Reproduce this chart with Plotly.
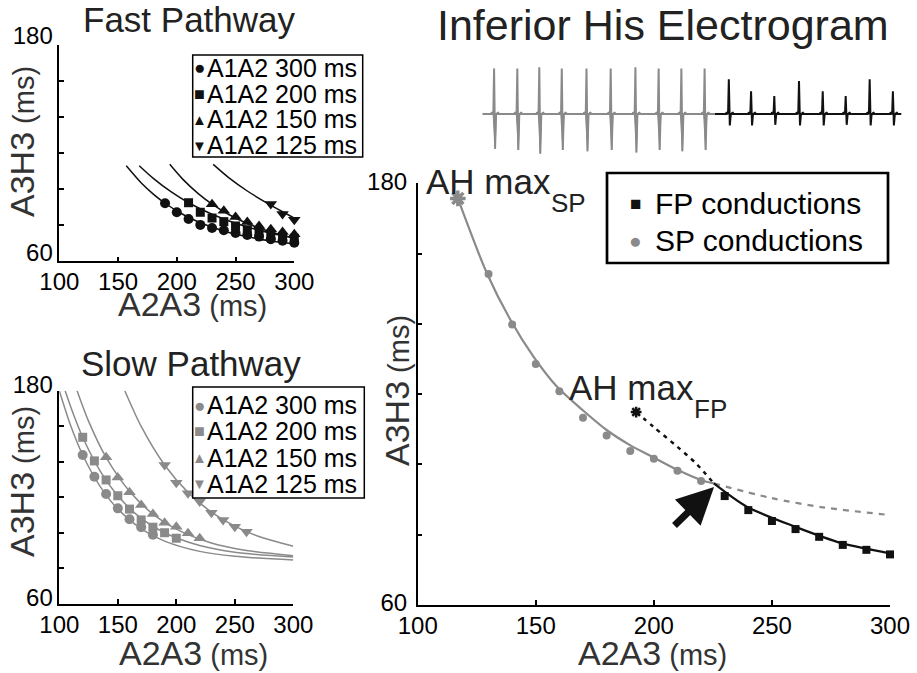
import plotly.graph_objects as go

W, H = 917, 673
def px(p): return p / W
def py(p): return 1 - p / H

FONT = "Liberation Sans, Arial, Helvetica, sans-serif"
GREY = "#8a8a8a"
BLACK = "#111111"

# ---------------- data: Fast Pathway ----------------
fast_x300 = [190, 200, 210, 220, 230, 240, 250, 260, 270, 280, 290, 300]
fast_y300 = [92.2, 87.2, 83.5, 80.2, 78.5, 77.2, 75.7, 74.6, 73.7, 72.2, 71.4, 70.3]
fast_x200 = [210, 220, 230, 240, 250, 260, 270, 280, 290, 300]
fast_y200 = [92.5, 87.2, 84.0, 82.0, 79.6, 77.5, 76.0, 74.8, 73.8, 72.8]
fast_x150 = [230, 240, 250, 260, 270, 280, 290, 300]
fast_y150 = [91.7, 88.0, 84.6, 81.8, 79.6, 77.8, 76.3, 75.0]
fast_x125 = [280, 290, 300]
fast_y125 = [91.8, 86.2, 83.0]

fastfit_x300 = [157, 170, 180, 190, 205, 220, 240, 260, 280, 300]
fastfit_y300 = [113, 103.3, 97.3, 92.2, 86.1, 81.4, 76.8, 73.6, 71.3, 69.7]
fastfit_x200 = [168, 180, 195, 210, 230, 250, 270, 285, 300]
fastfit_y200 = [113, 106.0, 98.6, 92.5, 86.1, 81.1, 77.2, 74.9, 73.0]
fastfit_x150 = [194, 205, 218, 230, 245, 260, 280, 300]
fastfit_y150 = [113.8, 105.6, 97.7, 91.7, 85.7, 81.0, 76.3, 72.9]
fastfit_x125 = [231, 245, 260, 275, 290, 300]
fastfit_y125 = [113.8, 106.0, 99.0, 93.0, 87.5, 84.0]

# ---------------- data: Slow Pathway ----------------
slow_x300 = [120, 130, 140, 150, 160, 170, 180]
slow_y300 = [143.8, 131.6, 121.9, 113.8, 107.7, 103.2, 99.0]
slow_x200 = [120, 130, 140, 150, 160, 170, 180, 190, 200]
slow_y200 = [153.8, 140.5, 129.8, 120.9, 113.4, 107.3, 103.2, 100.1, 97.0]
slow_x150 = [140, 150, 160, 170, 180, 190, 200, 210, 220]
slow_y150 = [142.5, 131.1, 122.8, 115.7, 110.6, 105.7, 103.5, 99.8, 97.0]
slow_x125 = [190, 200, 210, 220, 230, 240, 250, 260]
slow_y125 = [138.2, 128.2, 122.3, 117.6, 111.4, 107.3, 103.5, 100.7]

slowfit_x300 = [100, 110, 120, 135, 150, 170, 190, 220, 250, 300]
slowfit_y300 = [180, 159.8, 143.8, 126.0, 113.4, 102.3, 95.4, 89.6, 86.8, 84.8]
slowfit_x200 = [105, 112, 120, 135, 150, 170, 190, 220, 250, 300]
slowfit_y200 = [180, 166.9, 153.8, 134.7, 120.9, 108.2, 100.1, 92.9, 89.1, 86.4]
slowfit_x150 = [115.2, 125, 140, 160, 180, 200, 230, 260, 300]
slowfit_y150 = [180, 162.9, 142.5, 123.4, 110.6, 102.1, 94.3, 90.1, 87.2]
slowfit_x125 = [156, 170, 190, 210, 230, 250, 270, 300]
slowfit_y125 = [180, 159.9, 138.2, 122.8, 111.7, 103.8, 98.1, 92.5]

# ---------------- data: Inferior His main panel ----------------
sp_x = [130, 140, 150, 160, 170, 180, 190, 200, 210, 220]
sp_y = [154.2, 139.8, 128.6, 120.8, 113.3, 108.2, 103.8, 101.6, 98.2, 95.3]
fp_x = [230, 240, 250, 260, 270, 280, 290, 300]
fp_y = [91.0, 87.0, 83.9, 81.6, 79.4, 77.1, 75.7, 74.4]
ahmax_sp = (117, 175.7)
ahmax_fp = (192.5, 114.9)

spfit_x = [117, 129.3, 139.3, 149.1, 159, 169.8, 180, 189.9, 199.3, 209.5, 220.2, 225.4]
spfit_y = [175.7, 154.4, 141.1, 130.6, 122.1, 115.5, 109.8, 105.5, 102.2, 98.6, 95.5, 94.6]
spext_x = [225.4, 250, 271.5, 300]
spext_y = [94.6, 90.4, 87.8, 85.6]
fpfit_x = [225.4, 239.3, 259.7, 279.5, 300]
fpfit_y = [94.6, 88.0, 82.3, 77.6, 74.7]
fpext_x = [192.5, 200, 210, 218, 225.4]
fpext_y = [114.9, 110.6, 105.0, 100.2, 94.6]
arrow_head = (225.5, 93.6)
arrow_tail = (208.1, 82.2)

# ---------------- data: electrogram ----------------
grey_beat_t = [37, 131, 220, 311, 411, 509, 609, 703, 795, 889]
grey_beat_up = [0.76, 0.76, 0.78, 0.76, 0.76, 0.76, 0.78, 0.76, 0.76, 0.76]
grey_beat_down = [-0.58, -0.60, -0.66, -0.60, -0.62, -0.60, -0.64, -0.60, -0.62, -0.60]
black_beat_t = [987, 1077, 1171, 1271, 1367, 1460, 1557, 1651]
black_beat_up = [0.58, 0.38, 0.30, 0.55, 0.38, 0.30, 0.58, 0.38]
black_beat_down = [-0.19, -0.19, -0.18, -0.19, -0.19, -0.18, -0.19, -0.19]
grey_span = (-10, 931)
black_span = (931, 1685)

# main panel pixel geometry (for text placed next to data)
MX0, MX1, MY0, MY1 = 417.7, 890.0, 605.0, 183.3
def mx(d): return MX0 + (d - 100) * (MX1 - MX0) / 200
def my(d): return MY0 - (d - 60) * (MY0 - MY1) / 120

fig = go.Figure()

def add_series(xs, ys, xa, ya, symbol, color, size, name):
    fig.add_trace(go.Scatter(x=xs, y=ys, mode="markers", xaxis=xa, yaxis=ya, name=name,
                             marker=dict(symbol=symbol, color=color, size=size, line=dict(width=0)),
                             cliponaxis=False, showlegend=False))

def add_line(xs, ys, xa, ya, color, width, dash="solid", name=""):
    fig.add_trace(go.Scatter(x=xs, y=ys, mode="lines", xaxis=xa, yaxis=ya, name=name,
                             line=dict(color=color, width=width, dash=dash, shape="spline", smoothing=0.8),
                             cliponaxis=False, showlegend=False, hoverinfo="skip"))

# Fast pathway
for fx, fy in [(fastfit_x300, fastfit_y300), (fastfit_x200, fastfit_y200),
               (fastfit_x150, fastfit_y150), (fastfit_x125, fastfit_y125)]:
    add_line(fx, fy, "x", "y", BLACK, 1.5)
add_series(fast_x300, fast_y300, "x", "y", "circle", BLACK, 10, "A1A2 300 ms")
add_series(fast_x200, fast_y200, "x", "y", "square", BLACK, 9, "A1A2 200 ms")
add_series(fast_x150, fast_y150, "x", "y", "triangle-up", BLACK, 11, "A1A2 150 ms")
add_series(fast_x125, fast_y125, "x", "y", "triangle-down", BLACK, 11, "A1A2 125 ms")

# Slow pathway
for sx, sy in [(slowfit_x300, slowfit_y300), (slowfit_x200, slowfit_y200),
               (slowfit_x150, slowfit_y150), (slowfit_x125, slowfit_y125)]:
    add_line(sx, sy, "x2", "y2", GREY, 1.5)
add_series(slow_x300, slow_y300, "x2", "y2", "circle", GREY, 10, "A1A2 300 ms")
add_series(slow_x200, slow_y200, "x2", "y2", "square", GREY, 9, "A1A2 200 ms")
add_series(slow_x150, slow_y150, "x2", "y2", "triangle-up", GREY, 11, "A1A2 150 ms")
add_series(slow_x125, slow_y125, "x2", "y2", "triangle-down", GREY, 11, "A1A2 125 ms")

# Main panel
add_line(spext_x, spext_y, "x3", "y3", GREY, 2.2, dash="6px,6px")
add_line(fpext_x, fpext_y, "x3", "y3", BLACK, 2.5, dash="4px,5px")
add_line(spfit_x, spfit_y, "x3", "y3", GREY, 2.2)
add_line(fpfit_x, fpfit_y, "x3", "y3", BLACK, 2.2)
add_series(sp_x, sp_y, "x3", "y3", "circle", GREY, 8, "SP conductions")
add_series(fp_x, fp_y, "x3", "y3", "square", BLACK, 8, "FP conductions")
fig.add_trace(go.Scatter(x=[ahmax_sp[0]], y=[ahmax_sp[1]], mode="markers", xaxis="x3", yaxis="y3",
                         marker=dict(symbol="asterisk-open", size=13, color=GREY,
                                     line=dict(color=GREY, width=3.5)),
                         cliponaxis=False, showlegend=False, name="AH max SP"))
fig.add_trace(go.Scatter(x=[ahmax_fp[0]], y=[ahmax_fp[1]], mode="markers", xaxis="x3", yaxis="y3",
                         marker=dict(symbol="asterisk-open", size=9, color=BLACK,
                                     line=dict(color=BLACK, width=2.5)),
                         cliponaxis=False, showlegend=False, name="AH max FP"))

# Electrogram: built from beat times / amplitudes
def wave(ts, ups, downs, span):
    xs, ys = [span[0]], [0]
    for t, u, d in zip(ts, ups, downs):
        xs += [t - 14, t - 10, t - 10, t - 3, t, t + 4, t + 8, t + 14, t + 14, t + 20]
        ys += [0, 0, 0.03, 0, u, d, 0, 0, 0.03, 0]
    xs.append(span[1]); ys.append(0)
    return xs, ys

gx, gy = wave(grey_beat_t, grey_beat_up, grey_beat_down, grey_span)
fig.add_trace(go.Scatter(x=gx, y=gy, mode="lines", xaxis="x4", yaxis="y4",
                         line=dict(color=GREY, width=2), showlegend=False, hoverinfo="skip"))
wx, wy = [], []
for t, d in zip(grey_beat_t, grey_beat_down):
    wx += [t - 4, t + 9, t + 4, t - 4, None]
    wy += [0, 0, d, 0, None]
fig.add_trace(go.Scatter(x=wx, y=wy, mode="lines", fill="toself", fillcolor=GREY, xaxis="x4", yaxis="y4",
                         line=dict(color=GREY, width=1), showlegend=False, hoverinfo="skip"))
bx, by = wave(black_beat_t, black_beat_up, black_beat_down, black_span)
fig.add_trace(go.Scatter(x=bx, y=by, mode="lines", xaxis="x4", yaxis="y4",
                         line=dict(color=BLACK, width=2), showlegend=False, hoverinfo="skip"))

# ---------------- axes ----------------
def plot_axes(xdom, ydom, shift, standoff_y):
    ax_common = dict(showline=True, linecolor="black", linewidth=1.5, ticks="inside", ticklen=5,
                     tickwidth=1.5, tickcolor="black", showgrid=False, zeroline=False, automargin=False,
                     tickfont=dict(family=FONT, size=24, color="black"))
    xa = dict(ax_common, domain=xdom, range=[100, 300], tickvals=[100, 150, 200, 250, 300],
              ticktext=["100", "150", "200", "250", "300"], ticklabelstandoff=-2)
    ya = dict(ax_common, domain=ydom, range=[60, 180], tickvals=[60, 80, 100, 120, 140, 160, 180],
              ticktext=["60", "", "", "", "", "", "180"], ticklabelshift=shift,
              ticklabelstandoff=standoff_y)
    return xa, ya

xa1, ya1 = plot_axes([px(59.3), px(294.3)], [py(261.3), py(45)], -9, 0)
xa2, ya2 = plot_axes([px(59.3), px(293.3)], [py(604), py(390.7)], -6, 0)
xa3, ya3 = plot_axes([px(MX0), px(MX1)], [py(MY0), py(MY1)], -2, 4)
xa1.update(anchor="y"); ya1.update(anchor="x")
xa2.update(anchor="y2"); ya2.update(anchor="x2")
xa3.update(anchor="y3"); ya3.update(anchor="x3")

fig.update_layout(
    template="none",
    width=W, height=H, margin=dict(l=0, r=0, t=0, b=0, autoexpand=False),
    paper_bgcolor="white", plot_bgcolor="white", showlegend=False,
    font=dict(family=FONT, color="black"),
    xaxis=xa1, yaxis=ya1, xaxis2=xa2, yaxis2=ya2, xaxis3=xa3, yaxis3=ya3,
    xaxis4=dict(domain=[px(480), px(905)], range=[-20, 1700], visible=False, anchor="y4", automargin=False),
    yaxis4=dict(domain=[py(174), py(54)], range=[-1, 1], visible=False, anchor="x4", automargin=False),
)

ann = []
def text(x, y, s, size, color="#222222", xanchor="center", yanchor="middle", angle=0):
    ann.append(dict(x=px(x), y=py(y), xref="paper", yref="paper", text=s, showarrow=False, xanchor=xanchor,
                    yanchor=yanchor, textangle=angle, font=dict(family=FONT, size=size, color=color)))

AX = "<span style='font-size:34px'>A2A3</span><span style='font-size:29px'> (ms)</span>"
AY = "<span style='font-size:34px'>A3H3</span><span style='font-size:29px'> (ms)</span>"

text(189, 19, "Fast Pathway", 35)
text(191, 363, "Slow Pathway", 35)
text(663, 25, "Inferior His Electrogram", 43)
text(192, 304, AX, 32, color="#333333")
text(22, 142, AY, 32, color="#333333", angle=-90)
text(193, 653, AX, 32, color="#333333")
text(22, 482, AY, 32, color="#333333", angle=-90)
text(652, 653, AX, 32, color="#333333")
text(397, 391, AY, 32, color="#333333", angle=-90)

# AH max labels, placed relative to the main-panel scale
text(mx(129.9), my(180.5), "AH max", 35)
text(mx(164.0), my(174.4), "SP", 26)
text(mx(190.6), my(121.8), "AH max", 35)
text(mx(224.2), my(115.8), "FP", 26)

# legends drawn as boxed text
shapes = []
def box(x0, y0, x1, y1, w):
    shapes.append(dict(type="rect", xref="paper", yref="paper", x0=px(x0), x1=px(x1), y0=py(y1), y1=py(y0),
                       line=dict(color="black", width=w), fillcolor="white", layer="above"))

leg_labels = ["A1A2 300 ms", "A1A2 200 ms", "A1A2 150 ms", "A1A2 125 ms"]
glyphs = [("●", 19), ("■", 18), ("▲", 15), ("▼", 15)]

box(192.7, 55, 362.7, 157, 1.5)
for i, (lab, (g, gs)) in enumerate(zip(leg_labels, glyphs)):
    yy = 68 + i * 25.7
    text(199, yy, g, gs, color=BLACK)
    text(205, yy, lab, 25, color="black", xanchor="left")

box(192.7, 387, 364.3, 498, 1.5)
for i, (lab, (g, gs)) in enumerate(zip(leg_labels, glyphs)):
    yy = 405 + i * 26.3
    text(199, yy, g, gs, color=GREY)
    text(205, yy, lab, 25, color="black", xanchor="left")

box(607, 173, 888, 263, 2.7)
text(635, 203, "■", 19, color=BLACK)
text(653, 203, "FP conductions", 30, color="black", xanchor="left")
text(635, 240, "●", 21, color=GREY)
text(653, 240, "SP conductions", 30, color="black", xanchor="left")

# arrow
ann.append(dict(x=arrow_head[0], y=arrow_head[1], xref="x3", yref="y3", ax=arrow_tail[0], ay=arrow_tail[1],
                axref="x3", ayref="y3", showarrow=True, arrowhead=2, arrowsize=1.05, arrowwidth=7,
                arrowcolor=BLACK, text=""))

fig.update_layout(annotations=ann, shapes=shapes)
fig.write_html("out.html")
